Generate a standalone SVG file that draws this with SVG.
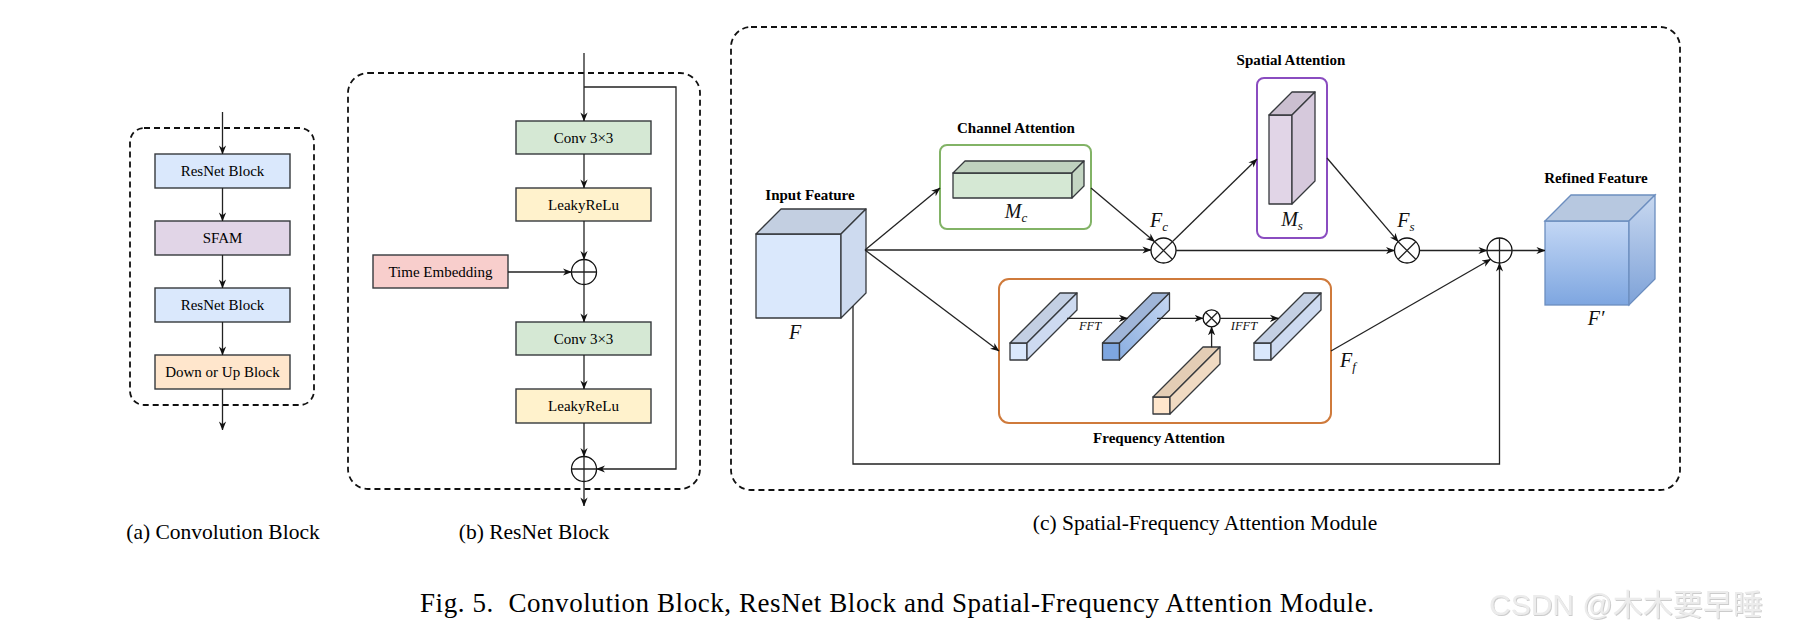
<svg xmlns="http://www.w3.org/2000/svg" width="1795" height="635" viewBox="0 0 1795 635">
<style>
.dash{fill:none;stroke:#111;stroke-width:1.8;stroke-dasharray:6 4}
.box{stroke:#36393d;stroke-width:1.4}
.lbl{font-family:"Liberation Serif",serif;font-size:15px;fill:#000;text-anchor:middle}
.cap{font-family:"Liberation Serif",serif;font-size:21.5px;fill:#000;text-anchor:middle}
.bold{font-family:"Liberation Serif",serif;font-size:15px;font-weight:bold;fill:#000;text-anchor:middle}
.math{font-family:"Liberation Serif",serif;font-style:italic;font-size:20px;fill:#111;text-anchor:middle}
.small{font-family:"Liberation Serif",serif;font-style:italic;font-size:12.5px;fill:#111;text-anchor:middle}
.ln{fill:none;stroke:#222;stroke-width:1.3}
.cub{stroke:#36393d;stroke-width:1.3;stroke-linejoin:round}
.op{fill:#fff;stroke:#111;stroke-width:1.3}
</style>
<defs>
<marker id="ar" viewBox="0 0 10 10" refX="9.5" refY="5" markerWidth="9" markerHeight="9" markerUnits="userSpaceOnUse" orient="auto">
<path d="M0,1 L10,5 L0,9 L3,5 z" fill="#111"/>
</marker>
<linearGradient id="gRef" x1="0" y1="0" x2="0" y2="1"><stop offset="0" stop-color="#c3d7f5"/><stop offset="1" stop-color="#7ea6e0"/></linearGradient>
<linearGradient id="gRefS" x1="0" y1="0" x2="0" y2="1"><stop offset="0" stop-color="#c8d8f0"/><stop offset="1" stop-color="#7ea2d8"/></linearGradient>
<linearGradient id="gC2" x1="0" y1="1" x2="1" y2="0"><stop offset="0" stop-color="#8aaee0"/><stop offset="1" stop-color="#c6d7f2"/></linearGradient>
<filter id="sh" x="-5%" y="-20%" width="110%" height="140%"><feDropShadow dx="1" dy="1" stdDeviation="0.5" flood-color="#999" flood-opacity="0.5"/></filter>
</defs>

<!-- (a) Convolution Block -->
<g id="conv-block">
<rect class="dash" x="130" y="128" width="184" height="277" rx="14"/>
<g id="a-resnet1"><rect class="box" x="155" y="154" width="135" height="34" fill="#dae8fc"/><text class="lbl" x="222.5" y="176">ResNet Block</text></g>
<g id="a-sfam"><rect class="box" x="155" y="221" width="135" height="34" fill="#e1d5e7"/><text class="lbl" x="222.5" y="243">SFAM</text></g>
<g id="a-resnet2"><rect class="box" x="155" y="288" width="135" height="34" fill="#dae8fc"/><text class="lbl" x="222.5" y="310">ResNet Block</text></g>
<g id="a-downup"><rect class="box" x="155" y="355" width="135" height="34" fill="#ffe6cc"/><text class="lbl" x="222.5" y="377">Down or Up Block</text></g>
</g>

<!-- (b) ResNet Block -->
<g id="resnet-block">
<rect class="dash" x="348" y="73" width="352" height="416" rx="20"/>
<g id="b-conv1"><rect class="box" x="516" y="121" width="135" height="33" fill="#d5e8d4"/><text class="lbl" x="583.5" y="143">Conv 3×3</text></g>
<g id="b-leaky1"><rect class="box" x="516" y="188" width="135" height="33" fill="#fff2cc"/><text class="lbl" x="583.5" y="210">LeakyReLu</text></g>
<g id="b-time"><rect class="box" x="373" y="255" width="135" height="33" fill="#f8cecc"/><text class="lbl" x="440.5" y="277">Time Embedding</text></g>
<g id="b-add1"><circle class="op" cx="584" cy="272" r="12.5"/><path class="ln" d="M571.5,272H596.5M584,259.5V284.5"/></g>
<g id="b-conv2"><rect class="box" x="516" y="322" width="135" height="33" fill="#d5e8d4"/><text class="lbl" x="583.5" y="344">Conv 3×3</text></g>
<g id="b-leaky2"><rect class="box" x="516" y="389" width="135" height="34" fill="#fff2cc"/><text class="lbl" x="583.5" y="411">LeakyReLu</text></g>
<g id="b-add2"><circle class="op" cx="584" cy="469" r="12.5"/><path class="ln" d="M571.5,469H596.5M584,456.5V481.5"/></g>
</g>

<!-- (c) SFAM -->
<g id="sfam-module">
<rect class="dash" x="731" y="27" width="949" height="463" rx="20"/>
</g>

<g id="input-feature">
<rect class="cub" x="756" y="234" width="85" height="84" fill="#dae8fc" stroke="#4d4d4d"/>
<polygon class="cub" points="756,234 781,209 866,209 841,234" fill="#c3cfe1"/>
<polygon class="cub" points="841,234 866,209 866,293 841,318" fill="#cddaef"/>
<text class="bold" x="810" y="200">Input Feature</text>
<text class="math" x="795" y="339">F</text>
</g>

<g id="channel-attention">
<rect x="940" y="145" width="151" height="84" rx="7" fill="#fff" stroke="#82b366" stroke-width="2"/>
<rect class="cub" x="953" y="173" width="119" height="25" fill="#d5e8d4"/>
<polygon class="cub" points="953,173 965,161 1084,161 1072,173" fill="#bfd1be"/>
<polygon class="cub" points="1072,173 1084,161 1084,186 1072,198" fill="#c4d6c3"/>
<text class="bold" x="1016" y="133">Channel Attention</text>
<text class="math" x="1016" y="218">M<tspan font-size="13" dy="4">c</tspan></text>
</g>

<g id="spatial-attention">
<rect x="1257" y="78" width="70" height="160" rx="7" fill="#fff" stroke="#8a4cc0" stroke-width="2"/>
<rect class="cub" x="1269" y="115" width="23" height="89" fill="#e1d5e7"/>
<polygon class="cub" points="1269,115 1292,92 1315,92 1292,115" fill="#cbbfd0"/>
<polygon class="cub" points="1292,115 1315,92 1315,181 1292,204" fill="#d6c9dc"/>
<text class="bold" x="1291" y="65">Spatial Attention</text>
<text class="math" x="1292" y="226">M<tspan font-size="13" dy="4">s</tspan></text>
</g>

<g id="fc-mult">
<circle class="op" cx="1163.5" cy="250.5" r="12.5"/>
<path class="ln" d="M1154.7,241.7L1172.3,259.3M1172.3,241.7L1154.7,259.3"/>
<text class="math" x="1159" y="227">F<tspan font-size="13" dy="4">c</tspan></text>
</g>

<g id="fs-mult">
<circle class="op" cx="1407" cy="250.5" r="12.5"/>
<path class="ln" d="M1398.2,241.7L1415.8,259.3M1415.8,241.7L1398.2,259.3"/>
<text class="math" x="1406" y="227">F<tspan font-size="13" dy="4">s</tspan></text>
</g>

<g id="sum">
<circle class="op" cx="1499.5" cy="250.5" r="12.5"/>
<path class="ln" d="M1487,250.5H1512M1499.5,238V263"/>
</g>

<g id="refined-feature">
<rect x="1545" y="221" width="84" height="84" fill="url(#gRef)" stroke="#6c8ebf" stroke-width="1.3"/>
<polygon points="1545,221 1571,195 1655,195 1629,221" fill="#b7c8e0" stroke="#6c8ebf" stroke-width="1.3"/>
<polygon points="1629,221 1655,195 1655,279 1629,305" fill="url(#gRefS)" stroke="#6c8ebf" stroke-width="1.3"/>
<text class="bold" x="1596" y="183">Refined Feature</text>
<text class="math" x="1596" y="325">F′</text>
</g>

<g id="frequency-attention">
<rect x="999" y="279" width="332" height="144" rx="10" fill="#fff" stroke="#cf7a3b" stroke-width="2"/>
<text class="bold" x="1159" y="443">Frequency Attention</text>
<text class="math" x="1348" y="367">F<tspan font-size="13" dy="4">f</tspan></text>
<g id="f-cub1">
<rect class="cub" x="1010" y="343" width="17" height="17" fill="#dae8fc"/>
<polygon class="cub" points="1010,343 1060,293 1077,293 1027,343" fill="#c3cfe3"/>
<polygon class="cub" points="1027,343 1077,293 1077,310 1027,360" fill="#cddaf0"/>
</g>
<g id="f-cub2">
<rect class="cub" x="1102.5" y="343" width="17" height="17" fill="#7ea6e0"/>
<polygon class="cub" points="1102.5,343 1152.5,293 1169.5,293 1119.5,343" fill="#9fb5d8"/>
<polygon class="cub" points="1119.5,343 1169.5,293 1169.5,310 1119.5,360" fill="url(#gC2)"/>
</g>
<g id="f-mult">
<circle class="op" cx="1211.6" cy="318.3" r="8.5"/>
<path class="ln" d="M1205.6,312.3L1217.6,324.3M1217.6,312.3L1205.6,324.3"/>
</g>
<g id="f-cub3">
<rect class="cub" x="1153" y="397" width="17" height="17" fill="#ffe6cc"/>
<polygon class="cub" points="1153,397 1203,347 1220,347 1170,397" fill="#e3cdb5"/>
<polygon class="cub" points="1170,397 1220,347 1220,364 1170,414" fill="#f0dac2"/>
</g>
<g id="f-cub4">
<rect class="cub" x="1254" y="343" width="17" height="17" fill="#dae8fc"/>
<polygon class="cub" points="1254,343 1304,293 1321,293 1271,343" fill="#c3cfe3"/>
<polygon class="cub" points="1271,343 1321,293 1321,310 1271,360" fill="#cddaf0"/>
</g>
<text class="small" x="1090" y="330">FFT</text>
<text class="small" x="1244" y="330">IFFT</text>
</g>

<g id="connectors">
<!-- (a) -->
<path class="ln" d="M222.5,112V154" marker-end="url(#ar)"/>
<path class="ln" d="M222.5,188V221" marker-end="url(#ar)"/>
<path class="ln" d="M222.5,255V288" marker-end="url(#ar)"/>
<path class="ln" d="M222.5,322V355" marker-end="url(#ar)"/>
<path class="ln" d="M222.5,389V430" marker-end="url(#ar)"/>
<!-- (b) -->
<path class="ln" d="M584,53V121" marker-end="url(#ar)"/>
<path class="ln" d="M584,154V188" marker-end="url(#ar)"/>
<path class="ln" d="M584,221V259.5" marker-end="url(#ar)"/>
<path class="ln" d="M508,272H571.5" marker-end="url(#ar)"/>
<path class="ln" d="M584,284.5V322" marker-end="url(#ar)"/>
<path class="ln" d="M584,355V389" marker-end="url(#ar)"/>
<path class="ln" d="M584,423V456.5" marker-end="url(#ar)"/>
<path class="ln" d="M584,481.5V506" marker-end="url(#ar)"/>
<path class="ln" d="M584,87H676V469H596.5" marker-end="url(#ar)"/>
<!-- (c) -->
<path class="ln" d="M865,250L940,188" marker-end="url(#ar)"/>
<path class="ln" d="M865,250H1151" marker-end="url(#ar)"/>
<path class="ln" d="M865,250L999,351" marker-end="url(#ar)"/>
<path class="ln" d="M1091,188L1154.7,241.7" marker-end="url(#ar)"/>
<path class="ln" d="M1172.3,241.7L1257,159" marker-end="url(#ar)"/>
<path class="ln" d="M1176,250.5H1394.5" marker-end="url(#ar)"/>
<path class="ln" d="M1327,158L1398.2,241.7" marker-end="url(#ar)"/>
<path class="ln" d="M1419.5,250.5H1487" marker-end="url(#ar)"/>
<path class="ln" d="M1512,250.5H1545" marker-end="url(#ar)"/>
<path class="ln" d="M1331,351L1490.7,259.3" marker-end="url(#ar)"/>
<path class="ln" d="M853,306V464H1499.5V263" marker-end="url(#ar)"/>
<path class="ln" d="M1067,318.3H1127.5" marker-end="url(#ar)"/>
<path class="ln" d="M1157,318.3H1203.1" marker-end="url(#ar)"/>
<path class="ln" d="M1220.1,318.3H1278.5" marker-end="url(#ar)"/>
<path class="ln" d="M1211.6,347.3V326.8" marker-end="url(#ar)"/>
</g>

<g id="captions">
<text class="cap" x="223" y="539">(a) Convolution Block</text>
<text class="cap" x="534" y="539">(b) ResNet Block</text>
<text class="cap" x="1205" y="530">(c) Spatial-Frequency Attention Module</text>
<text font-family="Liberation Serif,serif" font-size="27" x="420" y="612" textLength="954" lengthAdjust="spacing" xml:space="preserve">Fig. 5.  Convolution Block, ResNet Block and Spatial-Frequency Attention Module.</text>
<text font-family="Liberation Sans,'Noto Sans CJK SC',sans-serif" font-size="30" x="1489" y="615" fill="#ececec" filter="url(#sh)">CSDN @木木要早睡</text>
</g>
</svg>
